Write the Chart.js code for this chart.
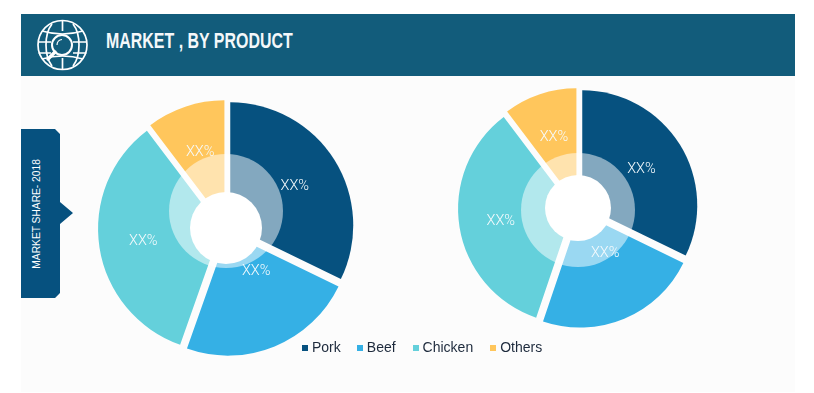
<!DOCTYPE html>
<html><head><meta charset="utf-8">
<script src="https://cdn.jsdelivr.net/npm/chart.js@4"></script>
<style>
html,body{margin:0;padding:0;background:#fff;}
#page{position:relative;width:814px;height:393px;overflow:hidden;font-family:"Liberation Sans",sans-serif;}
#panel{position:absolute;left:21px;top:76px;width:774px;height:316px;background:#fcfcfc;}
#header{position:absolute;left:21px;top:14px;width:774px;height:62px;background:#125c7b;}
#title{position:absolute;left:85px;top:14px;font:bold 22px/26px "Liberation Sans",sans-serif;color:#f4f8fa;white-space:nowrap;transform:scaleX(.725);transform-origin:left center;}
#icon{position:absolute;left:16px;top:7px;}
#tag{position:absolute;left:21px;top:129px;}
#tagText{position:absolute;left:21px;top:129px;width:30px;height:169px;display:flex;align-items:center;justify-content:center;}
#tagText span{writing-mode:vertical-rl;transform:rotate(180deg) scaleY(.93);font:normal 11px "Liberation Sans",sans-serif;color:#fff;white-space:nowrap;}
canvas{position:absolute;}
#legend{position:absolute;top:339px;left:302px;display:flex;font-size:14px;line-height:17px;color:#1d2a3c;}
#legend div{display:flex;align-items:center;white-space:nowrap;}
#legend i{display:block;width:6px;height:6px;margin-right:4px;}
</style></head><body>
<div id="page">
  <div id="panel"></div>
  <div id="header">
    <svg id="icon" width="52" height="48" viewBox="0 0 52 48" fill="none" stroke="#fff" stroke-width="1.7" style="overflow:visible">
      <circle cx="25.5" cy="24" r="24.5"/>
      <path d="M25.5 0V10M25.5 37V48M15 3C11 8 9 14 9 24C9 34 11 40 15 45M36 3C40 8 42 14 42 24C42 34 40 40 36 45"/>
      <path d="M5 10Q25.5 16 46 10M1.5 21H14M36 21H49.5M1.5 32H14M36 32H49.5M5 38Q25.5 32 46 38"/>
      <circle cx="25" cy="24" r="10" fill="#125c7b" stroke-width="2"/>
      <path d="M18 31L11 38" stroke-width="3.4" stroke-linecap="round"/>
      <path d="M20 24A5.5 5.5 0 0 1 25 18.5" stroke-width="1.2"/>
    </svg>
    <div id="title"></div>
  </div>
  <svg id="tag" width="54" height="170" viewBox="0 0 54 170">
    <path d="M0 0H34L39 5V73L52 84L39 95V164L34 169H0Z" fill="#06517f"/>
  </svg>
  <div id="tagText"><span id="tagLabel"></span></div>
  <canvas id="left" width="280" height="280" style="left:86px;top:88px;width:280px;height:280px"></canvas>
  <canvas id="right" width="280" height="280" style="left:438px;top:68px;width:280px;height:280px"></canvas>
  <div id="legend"></div>
</div>
<script>
const titleText = "MARKET , BY PRODUCT";
const sideText = "MARKET SHARE- 2018";
const categories = ["Pork", "Beef", "Chicken", "Others"];
const leftValues = [32.2, 23.2, 34.3, 10.3];
const rightValues = [32.2, 23.0, 34.5, 10.3];
const valueLabel = "XX%";
const colors = ["#06517f", "#35b0e5", "#64d0db", "#ffc65c"];
const legendGaps = [0, 16, 17, 17];

document.getElementById("title").textContent = titleText;
document.getElementById("tagLabel").textContent = sideText;
const legendEl = document.getElementById("legend");
categories.forEach((c, i) => {
  const d = document.createElement("div");
  d.style.marginLeft = legendGaps[i] + "px";
  d.innerHTML = '<i style="background:' + colors[i] + '"></i>';
  d.appendChild(document.createTextNode(c));
  legendEl.appendChild(d);
});

const explode = 5;
const overlay = {
  id: "overlay",
  // Push each slice out along its own mid angle so the pie is truly exploded.
  afterDatasetsUpdate(chart) {
    chart.getDatasetMeta(0).data.forEach(a => {
      const mid = (a.startAngle + a.endAngle) / 2;
      const ca = chart.chartArea;
      a.x = (ca.left + ca.right) / 2 + Math.cos(mid) * explode;
      a.y = (ca.top + ca.bottom) / 2 + Math.sin(mid) * explode;
    });
  },
  // Translucent ring, opaque hole and slice captions, painted over the pie.
  afterDatasetsDraw(chart, args, o) {
    const ctx = chart.ctx;
    const arcs = chart.getDatasetMeta(0).data;
    const ca = chart.chartArea;
    const cx = (ca.left + ca.right) / 2, cy = (ca.top + ca.bottom) / 2;
    ctx.save();
    ctx.fillStyle = "rgba(255,255,255,0.5)";
    ctx.beginPath();
    ctx.arc(cx, cy + o.ringDy, o.ringR, 0, Math.PI * 2);
    ctx.fill();
    ctx.fillStyle = "#ffffff";
    ctx.beginPath();
    ctx.arc(cx, cy, o.holeR, 0, Math.PI * 2);
    ctx.fill();
    ctx.fillStyle = "#f6fbfd";
    ctx.font = '300 14.5px Roboto, sans-serif';
    ctx.textAlign = "center";
    ctx.textBaseline = "middle";
    arcs.forEach((a, i) => {
      const mid = (a.startAngle + a.endAngle) / 2 + o.labelTurn[i] * Math.PI / 180;
      const r = a.outerRadius * o.labelR[i];
      ctx.fillText(valueLabel, cx + Math.cos(mid) * r, cy + 1 + Math.sin(mid) * r);
    });
    ctx.restore();
  }
};

function pie(id, values, radius, o) {
  new Chart(document.getElementById(id), {
    type: "pie",
    data: {
      labels: categories,
      datasets: [{ data: values, backgroundColor: colors, borderWidth: 0 }]
    },
    options: {
      responsive: false,
      animation: false,
      radius: radius,
      layout: { padding: 0 },
      events: [],
      plugins: { legend: { display: false }, tooltip: { enabled: false }, overlay: o }
    },
    plugins: [overlay]
  });
}
pie("left", leftValues, 123, { ringDy: -17, ringR: 57, holeR: 36, labelR: [0.66, 0.42, 0.68, 0.66], labelTurn: [0, -13.5, 0, 0] });
pie("right", rightValues, 115, { ringDy: 2, ringR: 57, holeR: 33, labelR: [0.65, 0.45, 0.68, 0.66], labelTurn: [0, -9, 0, 0] });
</script>
</body></html>
